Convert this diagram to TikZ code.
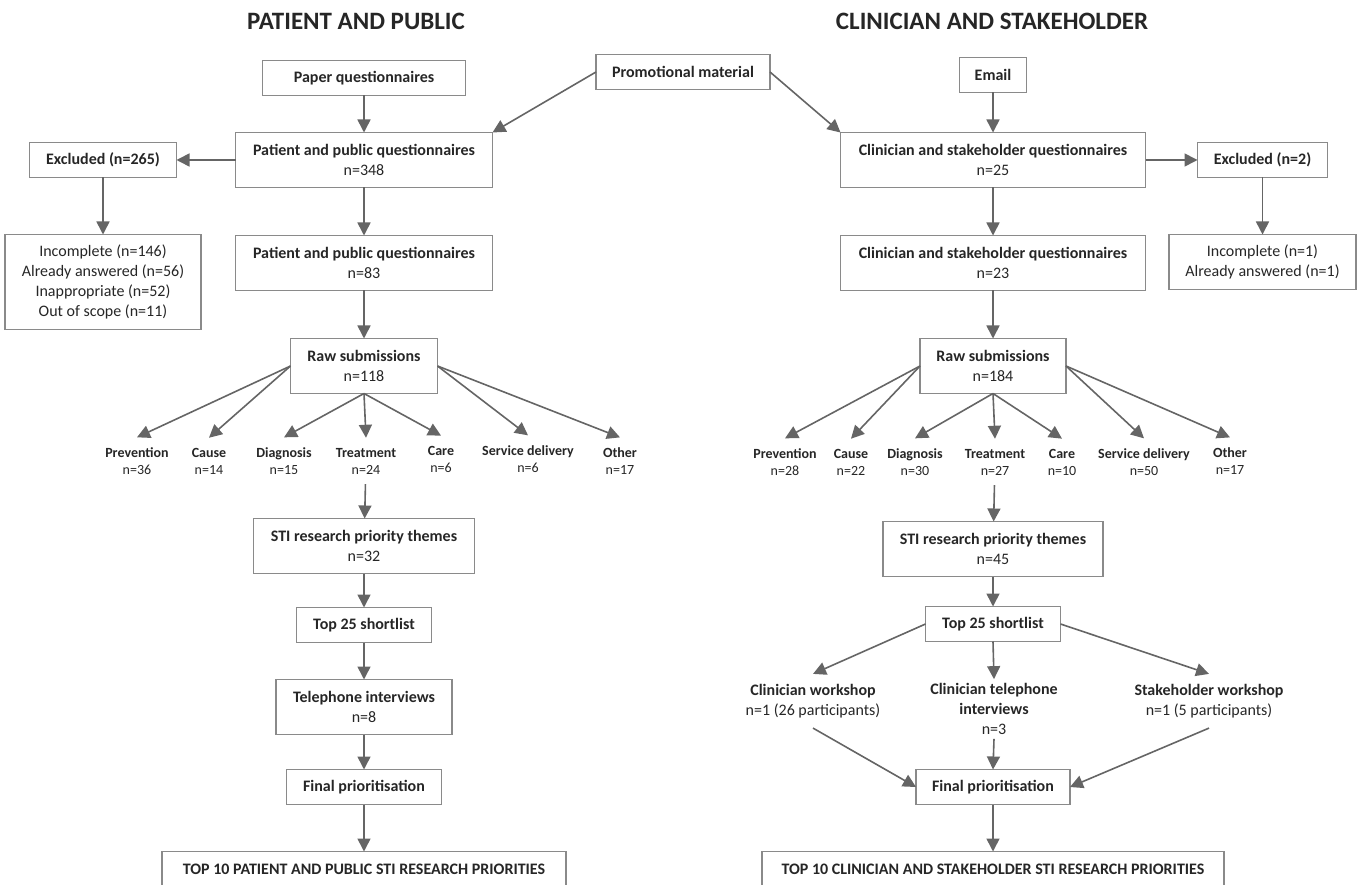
\documentclass[tikz,border=0pt]{standalone}
\usepackage{fontspec}
\setmainfont{Carlito}
\usepackage{xcolor}
\usetikzlibrary{arrows.meta,positioning}

\definecolor{boxgray}{HTML}{8A8A8A}
\definecolor{linegray}{HTML}{656565}
\definecolor{textdark}{HTML}{262626}

\begin{document}
\begin{tikzpicture}[
    x=1pt, y=-1pt,
    font=\fontsize{16}{20}\selectfont,
    node distance=40pt,
    box/.style={rectangle, draw=boxgray, line width=1.4pt, text=textdark, align=center, minimum height=35pt, inner sep=2pt, outer sep=0pt},
    tallbox/.style={box, minimum height=55pt},
    title/.style={font=\fontsize{25}{30}\selectfont\bfseries, text=textdark},
    cat/.style={align=center, text=textdark, font=\fontsize{14}{17}\selectfont, inner xsep=2pt, inner ysep=10pt},
    branch/.style={align=center, text=textdark, inner xsep=2pt, inner ysep=10pt},
    arrow/.style={-{Triangle[length=13pt,width=13pt]}, draw=linegray, line width=1.6pt}
]
    \useasboundingbox (0,0) rectangle (1366,885);

    % Titles
    \node[title] (titleL) at (356,21) {PATIENT AND PUBLIC};
    \node[title] (titleR) at (992,21) {CLINICIAN AND STAKEHOLDER};

    % Sources
    \node[box, minimum width=203pt] (paper) at (364,78) {\textbf{Paper questionnaires}};
    \node[box, minimum width=174pt] (promo) at (683,72) {\textbf{Promotional material}};
    \node[box, minimum width=67pt] (email) at (993,75) {\textbf{Email}};

    % Patient and public column
    \node[tallbox, minimum width=257pt, below=37pt of paper] (ppq1) {\textbf{Patient and public questionnaires}\\n=348};
    \node[box, minimum width=147pt, left=59pt of ppq1] (excl) {\textbf{Excluded (n=265)}};
    \node[box, minimum width=196pt, minimum height=95pt, below=57pt of excl] (exlist) {Incomplete (n=146)\\Already answered (n=56)\\Inappropriate (n=52)\\Out of scope (n=11)};
    \node[tallbox, minimum width=257pt, below=48pt of ppq1] (ppq2) {\textbf{Patient and public questionnaires}\\n=83};
    \node[tallbox, minimum width=147pt, below=48pt of ppq2] (raw) {\textbf{Raw submissions}\\n=118};

    \node[cat] (prevL) at (137,461) {\textbf{Prevention}\\n=36};
    \node[cat] (causeL) at (209,461) {\textbf{Cause}\\n=14};
    \node[cat] (diagL) at (284,461) {\textbf{Diagnosis}\\n=15};
    \node[cat] (treatL) at (366,461) {\textbf{Treatment}\\n=24};
    \node[cat] (careL) at (441,459) {\textbf{Care}\\n=6};
    \node[cat] (servL) at (528,459) {\textbf{Service delivery}\\n=6};
    \node[cat] (otherL) at (620,461) {\textbf{Other}\\n=17};

    \node[tallbox, minimum width=221pt, below=125pt of raw] (sti) {\textbf{STI research priority themes}\\n=32};
    \node[box, minimum width=135pt, below=34pt of sti] (top25) {\textbf{Top 25 shortlist}};
    \node[tallbox, minimum width=176pt, below=37pt of top25] (tel) {\textbf{Telephone interviews}\\n=8};
    \node[box, minimum width=155pt, below=35pt of tel] (final) {\textbf{Final prioritisation}};
    \node[box, minimum width=404pt, minimum height=36pt, below=47pt of final] (top10) {\textbf{TOP 10 PATIENT AND PUBLIC STI RESEARCH PRIORITIES}};

    % Clinician and stakeholder column
    \node[tallbox, minimum width=305pt, below=40pt of email] (cq1) {\textbf{Clinician and stakeholder questionnaires}\\n=25};
    \node[box, minimum width=130pt, right=52pt of cq1] (excl2) {\textbf{Excluded (n=2)}};
    \node[box, minimum width=187pt, minimum height=55pt, below=57pt of excl2] (exlist2) {Incomplete (n=1)\\Already answered (n=1)};
    \node[tallbox, minimum width=305pt, below=48pt of cq1] (cq2) {\textbf{Clinician and stakeholder questionnaires}\\n=23};
    \node[tallbox, minimum width=146pt, below=48pt of cq2] (raw2) {\textbf{Raw submissions}\\n=184};

    \node[cat] (prevR) at (785,462) {\textbf{Prevention}\\n=28};
    \node[cat] (causeR) at (851,462) {\textbf{Cause}\\n=22};
    \node[cat] (diagR) at (915,462) {\textbf{Diagnosis}\\n=30};
    \node[cat] (treatR) at (995,462) {\textbf{Treatment}\\n=27};
    \node[cat] (careR) at (1062,462) {\textbf{Care}\\n=10};
    \node[cat] (servR) at (1144,462) {\textbf{Service delivery}\\n=50};
    \node[cat] (otherR) at (1230,461) {\textbf{Other}\\n=17};

    \node[tallbox, minimum width=220pt, below=128pt of raw2] (sti2) {\textbf{STI research priority themes}\\n=45};
    \node[box, minimum width=135pt, below=30pt of sti2] (top25b) {\textbf{Top 25 shortlist}};
    \node[branch] (cwork) at (813,701) {\textbf{Clinician workshop}\\n=1 (26 participants)};
    \node[branch, inner ysep=4pt] (ctel) at (994,709) {\textbf{Clinician telephone}\\\textbf{interviews}\\n=3};
    \node[branch] (swork) at (1209,701) {\textbf{Stakeholder workshop}\\n=1 (5 participants)};
    \node[box, minimum width=154pt, below=128pt of top25b] (final2) {\textbf{Final prioritisation}};
    \node[box, minimum width=462pt, minimum height=36pt, below=47pt of final2] (top10b) {\textbf{TOP 10 CLINICIAN AND STAKEHOLDER STI RESEARCH PRIORITIES}};

    % Arrows
    \draw[arrow] (promo.west) -- (ppq1.north east);
    \draw[arrow] (promo.east) -- (cq1.north west);
    \draw[arrow] (paper) -- (ppq1);
    \draw[arrow] (ppq1) -- (excl);
    \draw[arrow] (excl) -- (exlist);
    \draw[arrow] (ppq1) -- (ppq2);
    \draw[arrow] (ppq2) -- (raw);
    \draw[arrow] (raw.west) -- (prevL.north);
    \draw[arrow] (raw.west) -- (causeL.north);
    \draw[arrow] (raw.south) -- (diagL.north);
    \draw[arrow] (raw.south) -- (treatL.north);
    \draw[arrow] (raw.south) -- (careL.north);
    \draw[arrow] (raw.east) -- (servL.north);
    \draw[arrow] (raw.east) -- (otherL.north);
    \draw[arrow] (treatL) -- (sti);
    \draw[arrow] (sti) -- (top25);
    \draw[arrow] (top25) -- (tel);
    \draw[arrow] (tel) -- (final);
    \draw[arrow] (final) -- (top10);

    \draw[arrow] (email) -- (cq1);
    \draw[arrow] (cq1) -- (excl2);
    \draw[arrow] (excl2) -- (exlist2);
    \draw[arrow] (cq1) -- (cq2);
    \draw[arrow] (cq2) -- (raw2);
    \draw[arrow] (raw2.west) -- (prevR.north);
    \draw[arrow] (raw2.west) -- (causeR.north);
    \draw[arrow] (raw2.south) -- (diagR.north);
    \draw[arrow] (raw2.south) -- (treatR.north);
    \draw[arrow] (raw2.south) -- (careR.north);
    \draw[arrow] (raw2.east) -- (servR.north);
    \draw[arrow] (raw2.east) -- (otherR.north);
    \draw[arrow] (treatR) -- (sti2);
    \draw[arrow] (sti2) -- (top25b);
    \draw[arrow] (top25b.west) -- (cwork.north);
    \draw[arrow] (top25b.south) -- (ctel.north);
    \draw[arrow] (top25b.east) -- (swork.north);
    \draw[arrow] (cwork.south) -- (final2.west);
    \draw[arrow] (ctel.south) -- (final2.north);
    \draw[arrow] (swork.south) -- (final2.east);
    \draw[arrow] (final2) -- (top10b);
\end{tikzpicture}
\end{document}
